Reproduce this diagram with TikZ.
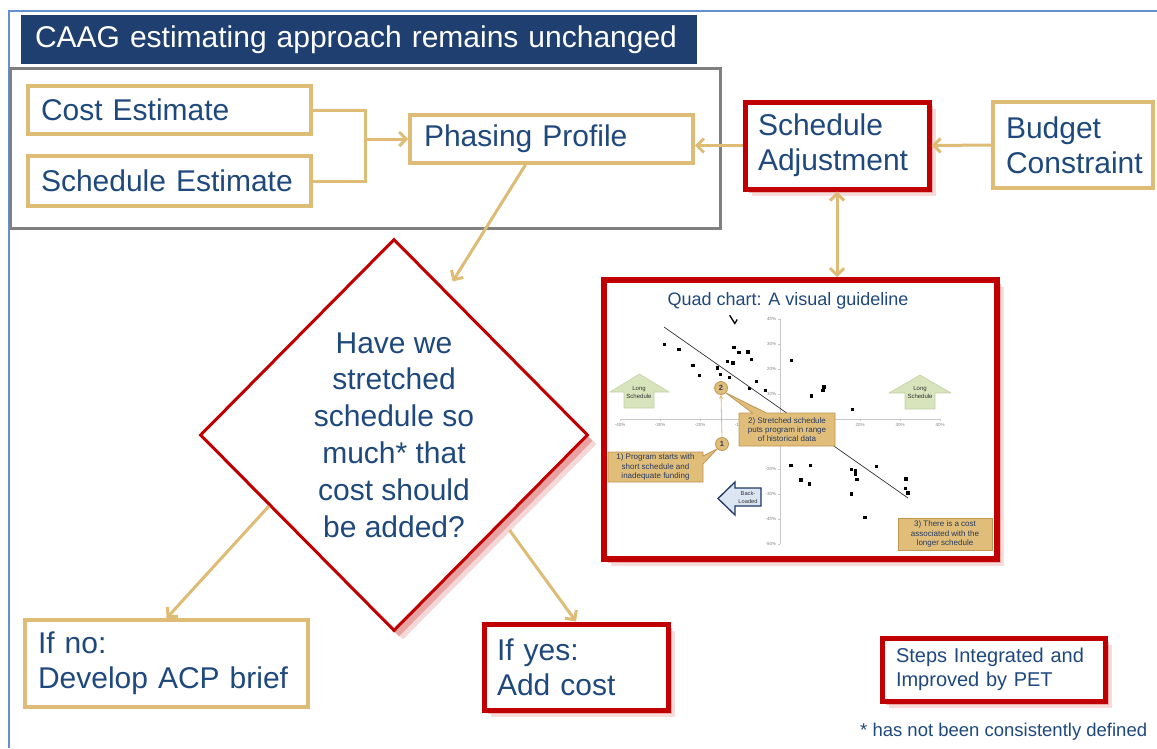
\documentclass[tikz,border=0pt]{standalone}
\usepackage{fontspec}
\setmainfont{Liberation Sans}
\usetikzlibrary{shapes.geometric,shapes.callouts,shadows,arrows.meta,calc}

\definecolor{txtblue}{RGB}{31,73,125}
\definecolor{barblue}{RGB}{30,63,112}
\definecolor{tanline}{RGB}{222,188,118}
\definecolor{petred}{RGB}{192,0,0}
\definecolor{glow}{RGB}{228,140,140}
\definecolor{framegray}{RGB}{128,128,128}
\definecolor{edgeblue}{RGB}{100,145,205}
\definecolor{notefill}{RGB}{224,190,122}
\definecolor{noteline}{RGB}{190,150,82}
\definecolor{notetext}{RGB}{40,58,95}
\definecolor{leaf}{RGB}{216,228,188}
\definecolor{leafline}{RGB}{196,210,168}
\definecolor{ice}{RGB}{220,230,242}
\definecolor{navy}{RGB}{31,56,100}
\definecolor{axisgray}{RGB}{200,200,200}

\tikzstyle{box}=[rectangle, draw=tanline, line width=3.5pt, fill=white, text=txtblue, align=left, inner xsep=13pt, inner ysep=0pt, anchor=center, font=\fontsize{30}{35}\selectfont]
\tikzstyle{petbox}=[box, draw=petred, line width=5pt, drop shadow={shadow xshift=7pt, shadow yshift=-7pt, fill=glow, opacity=0.3}, drop shadow={shadow xshift=3.5pt, shadow yshift=-4pt, fill=glow, opacity=0.6}]
\tikzstyle{decision}=[diamond, draw=petred, line width=3pt, fill=white, text=txtblue, align=center, inner sep=0pt, minimum width=388pt, minimum height=392pt, font=\fontsize{30}{36.8}\selectfont, drop shadow={shadow xshift=9pt, shadow yshift=-9pt, fill=glow, opacity=0.35}, drop shadow={shadow xshift=5pt, shadow yshift=-6pt, fill=glow, opacity=0.7}]
\tikzstyle{flow}=[draw=tanline, line width=3pt, -{Straight Barb[length=7pt,width=14pt]}]
\tikzstyle{note}=[rectangle, fill=notefill, draw=noteline, line width=0.8pt, text=notetext, align=center, inner sep=1pt, font=\fontsize{8}{9.3}\selectfont]
\tikzstyle{marker}=[circle, fill=notefill, draw=noteline, line width=0.8pt, minimum size=13pt, inner sep=0pt, text=notetext, font=\fontsize{7.5}{8}\selectfont\bfseries]
\tikzstyle{tick}=[font=\fontsize{4.5}{5}\selectfont, text=gray, inner sep=0.5pt]
\tikzstyle{tiny}=[align=center, text=black!80, inner sep=0pt, font=\fontsize{6}{8.5}\selectfont]

\begin{document}
\begin{tikzpicture}[x=1pt, y=-1pt]
	\useasboundingbox (0,0) rectangle (1157,748);
	\draw[edgeblue, line width=1.2pt] (9,748) |- (1157,11);

	% header and estimating group
	\node[rectangle, fill=barblue, text=white, align=left, inner xsep=14pt, text width=648pt, minimum height=49pt, font=\fontsize{30}{35}\selectfont] (title) at (359,39.5) {CAAG estimating approach remains unchanged};
	\node[rectangle, draw=framegray, line width=3pt, minimum width=710pt, minimum height=160pt] (group) at (365,148) {};

	\node[box, text width=257pt, minimum height=48pt] (cost) at (169.5,110) {Cost Estimate};
	\node[box, text width=257pt, minimum height=50pt] (schedest) at (169.5,181) {Schedule Estimate};
	\node[box, inner xsep=14pt, text width=255pt, minimum height=48pt] (phasing) at (551.5,139) {Phasing Profile};
	\node[petbox, text width=158pt, minimum height=87pt] (schedadj) at (837,145.5) {Schedule\\Adjustment};
	\node[box, text width=134pt, minimum height=86pt] (budget) at (1073,145) {Budget\\Constraint};

	\coordinate (join) at (365,139);
	\draw[draw=tanline, line width=3pt] (cost.east) -| (join) |- (schedest.east);
	\draw[flow] (join) -- (phasing.west);
	\draw[flow] (budget.west) -- (schedadj.east);
	\draw[flow] (schedadj.west) -- (schedadj.west -| phasing.east);

	% decision
	\node[decision] (question) at (394,435) {Have we\\stretched\\schedule so\\much* that\\cost should\\be added?};
	\draw[flow, shorten >=11pt] ([xshift=-26pt]phasing.south) -- ($(question.north)!0.27!(question.east)$);

	\node[box, text width=257pt, minimum height=87pt] (ifno) at (166.5,663.5) {If no:\\Develop ACP brief};
	\node[petbox, text width=158pt, minimum height=86pt] (ifyes) at (576,667) {If yes:\\Add cost};
	\draw[flow] ($(question.west)!0.36!(question.south)$) -- (ifno.north);
	\draw[flow, shorten <=10pt] ($(question.east)!0.44!(question.south)$) -- (ifyes.north);

	% quad chart
	\node[petbox, line width=5.5pt, minimum width=393pt, minimum height=279pt, inner sep=0pt] (quad) at (800.5,419.5) {};
	\draw[flow, {Straight Barb[length=7pt,width=14pt]}-{Straight Barb[length=7pt,width=14pt]}] (schedadj.south) -- (schedadj.south |- quad.north);
	\node[text=txtblue, font=\fontsize{18}{20}\selectfont] (qtitle) at (788,301) {Quad chart: A visual guideline};

	\begin{scope}[shift={(780,419)}, x=4pt, y=2.5pt]
		\draw[axisgray, line width=0.8pt] (-40,0) -- (40,0);
		\draw[axisgray, line width=0.8pt] (0,-50) -- (0,40);
		\foreach \t in {-40,-30,...,40} {
			\draw[axisgray, line width=0.5pt] (\t,0) -- (\t,-0.8);
			\draw[axisgray, line width=0.5pt] (0,\t) -- (-0.5,\t);
		}
		\draw[axisgray, line width=0.5pt] (0,-50) -- (-0.5,-50);
		\foreach \t in {-40,-30,-20,-10,10,20,30,40}
			\node[tick] at (\t,-2.4) {\t\%};
		\foreach \t in {-50,-40,-30,-20,-10,10,20,30,40}
			\node[tick, anchor=east] at (-0.8,\t) {\t\%};
		\foreach \px/\py in {-28.9/29.9, -25.3/27.9, -21.8/21.5, -20.1/17.5, -15.7/20.4, -14.9/17.7,
				-13.2/22.9, -11.8/22.4, -12.6/16.5, -11.5/28.7, -10.3/26.7, -8/26.8, -7.1/23.7,
				-5.9/14.9, -7.6/12.1, -3.6/11.3, 2.9/23.5, 7.8/9.2, 10.7/11.5, 11/12.8, 18.1/3.9,
				2.7/-18.5, 7.6/-18.5, 5.2/-24.4, 7.4/-26, 17.9/-20.1, 18.9/-20.7, 18.8/-22,
				19.2/-24.1, 17.8/-30, 24.1/-19.1, 31.5/-24, 31.4/-27.7, 32/-29.6, 21.2/-39.5}
			\fill[black] ($(\px,\py)+(-1.7pt,-1.7pt)$) rectangle +(3.4pt,3.4pt);
		\draw[black!80, line width=0.7pt] (-29,36.8) -- (32,-31.6);
		\draw[black, line width=1.3pt] (-12.6,41.5) -- (-11.3,38.2) -- (-10.7,39.8);
	\end{scope}

	% block arrows
	\draw[leafline, fill=leaf, line width=0.6pt] (624,408) -- (624,392) -- (610,392) -- (639.5,374) -- (669,392) -- (654,392) -- (654,408) -- cycle;
	\node[tiny] (longl) at (639,392.5) {Long\\Schedule};
	\draw[leafline, fill=leaf, line width=0.6pt] (905,409) -- (905,393) -- (889,393) -- (920,375) -- (951,393) -- (935,393) -- (935,409) -- cycle;
	\node[tiny] (longr) at (920,392.5) {Long\\Schedule};
	\draw[navy, fill=ice, line width=1.3pt] (761,488) -- (735,488) -- (735,482) -- (718,498.5) -- (735,515) -- (735,506) -- (761,506) -- cycle;
	\node[tiny, font=\fontsize{5.7}{8}\selectfont] (backl) at (748,497) {Back-\\Loaded};

	% callouts
	\node[marker] (two) at (721,388) {2};
	\node[marker] (one) at (722,444) {1};
	\draw[tanline, line width=0.8pt, -{Stealth[length=4pt,width=4pt]}] (one.north) -- (two.south);
	\node[note, rectangle callout, callout absolute pointer={(one.south west)}, callout pointer width=8pt, minimum width=95pt, minimum height=30pt] (note1) at (655.5,467) {1) Program starts with\\short schedule and\\inadequate funding};
	\node[note, rectangle callout, callout absolute pointer={(two.south east)}, callout pointer width=14pt, minimum width=96pt, minimum height=33pt] (note2) at (787,429.5) {2) Stretched schedule\\puts program in range\\of historical data};
	\node[note, minimum width=94pt, minimum height=32pt] (note3) at (945,534) {3) There is a cost\\associated with the\\longer schedule};

	% legend
	\node[petbox, inner xsep=14pt, text width=195pt, minimum height=63pt, font=\fontsize{20}{23.5}\selectfont] (steps) at (993.5,669.5) {Steps Integrated and\\Improved by PET};
	\node[anchor=west, inner sep=0pt, text=txtblue, font=\fontsize{18.5}{20}\selectfont] (foot) at (860,732) {* has not been consistently defined};
\end{tikzpicture}
\end{document}
